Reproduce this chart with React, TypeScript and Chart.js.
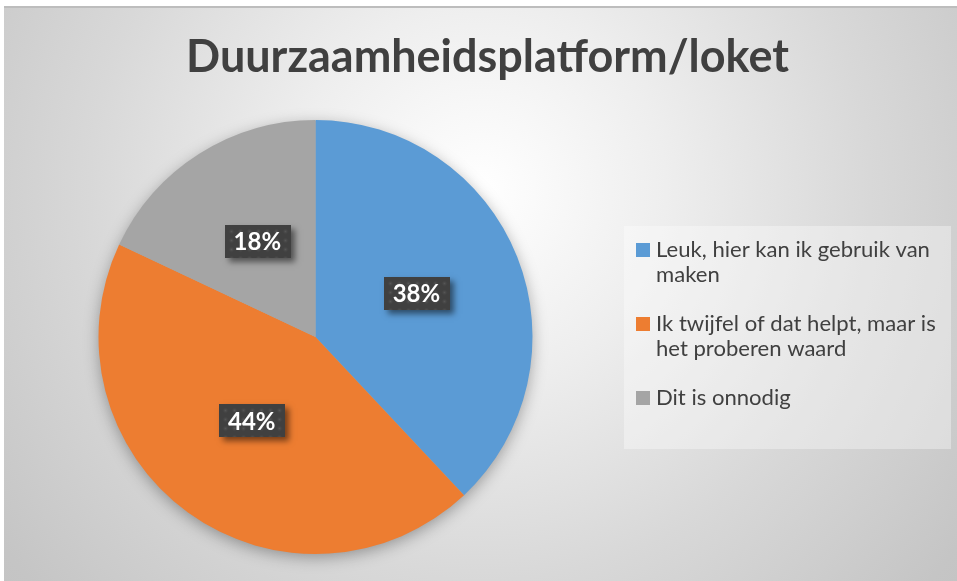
import React, { useEffect, useRef } from "react";
import { Chart, registerables } from "chart.js";

Chart.register(...registerables);

const chartTitle = "Duurzaamheidsplatform/loket";
const categories = [
  "Leuk, hier kan ik gebruik van maken",
  "Ik twijfel of dat helpt, maar is het proberen waard",
  "Dit is onnodig",
];
const values = [38, 44, 18];
const sliceColors = ["#5B9BD5", "#ED7D31", "#A5A5A5"];

const FONT = "Lato, 'Noto Sans', sans-serif";

function wrap(ctx: CanvasRenderingContext2D, text: string, maxW: number): string[] {
  const words = text.split(" ");
  const lines: string[] = [];
  let cur = "";
  for (const w of words) {
    const t = cur ? cur + " " + w : w;
    if (ctx.measureText(t).width > maxW && cur) {
      lines.push(cur);
      cur = w;
    } else cur = t;
  }
  if (cur) lines.push(cur);
  return lines;
}

function makePattern(ctx: CanvasRenderingContext2D) {
  const c = document.createElement("canvas");
  c.width = 9;
  c.height = 9;
  const p = c.getContext("2d")!;
  p.fillStyle = "#404040";
  p.fillRect(0, 0, 9, 9);
  const g = p.createRadialGradient(4.5, 4.5, 0, 4.5, 4.5, 3.5);
  g.addColorStop(0, "rgba(95,95,95,0.7)");
  g.addColorStop(1, "rgba(64,64,64,0)");
  p.fillStyle = g;
  p.fillRect(0, 0, 9, 9);
  return ctx.createPattern(c, "repeat");
}

export default function App() {
  const ref = useRef<HTMLCanvasElement>(null);

  useEffect(() => {
    document.body.style.margin = "0";
    const canvas = ref.current!;

    const decor = {
      id: "decor",
      beforeDraw(chart: any) {
        const ctx: CanvasRenderingContext2D = chart.ctx;
        ctx.save();
        ctx.fillStyle = "#ffffff";
        ctx.fillRect(0, 0, chart.width, chart.height);
        const g = ctx.createRadialGradient(480, 190, 0, 480, 190, 620);
        g.addColorStop(0, "#ffffff");
        g.addColorStop(0.3, "#eeeeee");
        g.addColorStop(0.63, "#d8d8d8");
        g.addColorStop(0.96, "#c5c5c5");
        g.addColorStop(1, "#c4c4c4");
        ctx.fillStyle = g;
        ctx.fillRect(4, 7, chart.width - 4, chart.height - 7);
        ctx.fillStyle = "#bdbdbd";
        ctx.fillRect(4, 6, chart.width - 4, 2);
        ctx.restore();
      },
      beforeDatasetsDraw(chart: any) {
        const ctx: CanvasRenderingContext2D = chart.ctx;
        const arc = chart.getDatasetMeta(0).data[0];
        if (!arc) return;
        ctx.save();
        ctx.shadowColor = "rgba(0,0,0,0.35)";
        ctx.shadowBlur = 16;
        ctx.shadowOffsetY = 4;
        ctx.fillStyle = "#aaaaaa";
        ctx.beginPath();
        ctx.arc(arc.x, arc.y, arc.outerRadius - 1, 0, Math.PI * 2);
        ctx.fill();
        ctx.restore();
      },
      afterDatasetsDraw(chart: any) {
        const ctx: CanvasRenderingContext2D = chart.ctx;
        const meta = chart.getDatasetMeta(0);
        const pattern = makePattern(ctx);
        ctx.save();
        ctx.font = `bold 24px ${FONT}`;
        meta.data.forEach((arc: any, i: number) => {
          const p = arc.tooltipPosition(false);
          const text = values[i] + "%";
          const tw = ctx.measureText(text).width;
          const bw = tw + 18;
          const bh = 33;
          const cx = p.x;
          const cy = p.y - 4;
          const bx = Math.round(cx - bw / 2);
          const by = Math.round(cy - bh / 2);
          ctx.save();
          ctx.shadowColor = "rgba(0,0,0,0.5)";
          ctx.shadowBlur = 6;
          ctx.shadowOffsetX = 4;
          ctx.shadowOffsetY = 4;
          ctx.fillStyle = "#404040";
          ctx.fillRect(bx, by, Math.round(bw), bh);
          ctx.restore();
          if (pattern) {
            ctx.save();
            ctx.translate(bx + 2, by + 2);
            ctx.fillStyle = pattern;
            ctx.fillRect(-2, -2, Math.round(bw), bh);
            ctx.restore();
          }
          ctx.fillStyle = "#ffffff";
          ctx.textAlign = "center";
          ctx.textBaseline = "middle";
          ctx.fillText(text, cx, cy + 1);
        });
        ctx.restore();
      },
      afterDraw(chart: any) {
        const ctx: CanvasRenderingContext2D = chart.ctx;
        ctx.save();
        ctx.font = `bold 100px ${FONT}`;
        const tw = ctx.measureText(chartTitle).width;
        const ts = (100 * 603) / tw;
        ctx.font = `bold ${ts}px ${FONT}`;
        ctx.fillStyle = "#404040";
        ctx.textAlign = "center";
        ctx.textBaseline = "alphabetic";
        ctx.fillText(chartTitle, 487.5, 72);

        ctx.fillStyle = "rgba(255,255,255,0.35)";
        ctx.fillRect(624, 226, 327, 223);
        ctx.font = `100px ${FONT}`;
        const lw = ctx.measureText("Leuk, hier kan ik gebruik van").width;
        const ls = (100 * 274) / lw;
        ctx.font = `${ls}px ${FONT}`;
        ctx.textAlign = "left";
        ctx.textBaseline = "middle";
        let y = 250;
        categories.forEach((cat, i) => {
          const lines = wrap(ctx, cat, 292);
          ctx.fillStyle = sliceColors[i];
          ctx.fillRect(636, y - 7, 14, 14);
          ctx.fillStyle = "#404040";
          lines.forEach((ln, j) => {
            ctx.fillText(ln, 656, y + j * 25);
          });
          y += lines.length * 25 + 24;
        });
        ctx.restore();
      },
    };

    const chart = new Chart(canvas, {
      type: "pie",
      data: {
        labels: categories,
        datasets: [
          {
            data: values,
            backgroundColor: sliceColors,
            borderWidth: 0,
          },
        ],
      },
      options: {
        responsive: false,
        animation: false,
        devicePixelRatio: 1,
        layout: { padding: { left: 98.5, right: 424.5, top: 120, bottom: 27 } },
        plugins: {
          legend: { display: false },
          title: { display: false },
          tooltip: { enabled: false },
        },
      },
      plugins: [decor],
    });
    return () => chart.destroy();
  }, []);

  return <canvas ref={ref} width={957} height={581} style={{ display: "block" }} />;
}
